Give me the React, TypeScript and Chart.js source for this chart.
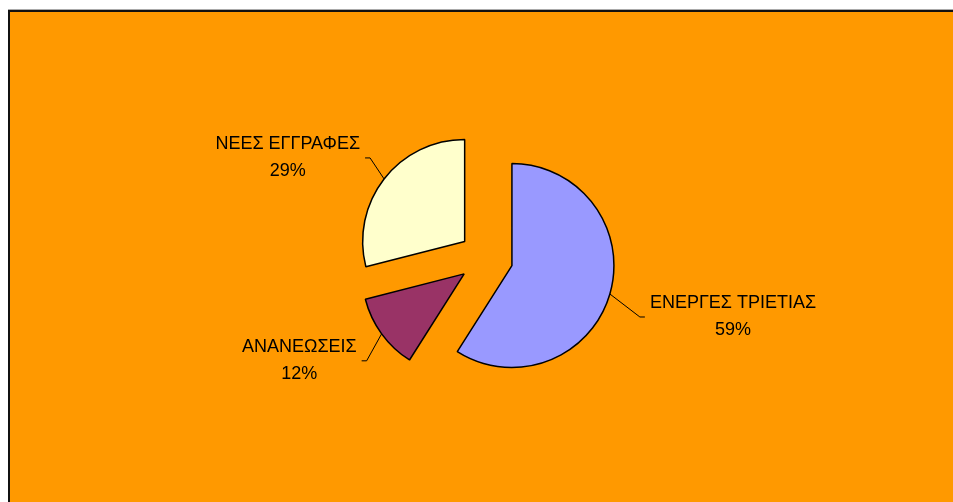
import React, { useEffect, useRef } from "react";
import { Chart, registerables } from "chart.js";

Chart.register(...registerables);

const categories = ["ΕΝΕΡΓΕΣ ΤΡΙΕΤΙΑΣ", "ΑΝΑΝΕΩΣΕΙΣ", "ΝΕΕΣ ΕΓΓΡΑΦΕΣ"];
const values = [59, 12, 29];
const colors = ["#9999FF", "#993366", "#FFFFCC"];
// leader line vectors (edge -> elbow) per slice, in px
const leaderVectors = [
  [30, 23],
  [-15, 27],
  [-14, -21],
];

const EXPLODE = 27;
const FONT = '18px "Liberation Sans", Arial, sans-serif';

const explodePlugin = {
  id: "explode",
  beforeDatasetsDraw(chart: any) {
    const a = chart.chartArea;
    const cx = (a.left + a.right) / 2;
    const cy = (a.top + a.bottom) / 2;
    const meta = chart.getDatasetMeta(0);
    meta.data.forEach((el: any) => {
      const mid = (el.startAngle + el.endAngle) / 2;
      el.x = cx + Math.cos(mid) * EXPLODE;
      el.y = cy + Math.sin(mid) * EXPLODE;
    });
  },
};

const labelPlugin = {
  id: "pieLabels",
  afterDatasetsDraw(chart: any) {
    const ctx = chart.ctx;
    const meta = chart.getDatasetMeta(0);
    const data = chart.data.datasets[0].data as number[];
    const total = data.reduce((s, v) => s + v, 0);
    ctx.save();
    ctx.font = FONT;
    ctx.fillStyle = "#000";
    ctx.strokeStyle = "#000";
    ctx.lineWidth = 1;
    meta.data.forEach((el: any, i: number) => {
      const mid = (el.startAngle + el.endAngle) / 2;
      const r = el.outerRadius;
      const ex = el.x + Math.cos(mid) * r;
      const ey = el.y + Math.sin(mid) * r;
      const [dx, dy] = leaderVectors[i];
      const bx = ex + dx;
      const by = ey + dy;
      const side = dx >= 0 ? 1 : -1;
      const hx = bx + side * 5;
      ctx.beginPath();
      ctx.moveTo(ex, ey);
      ctx.lineTo(bx, by);
      ctx.lineTo(hx, by);
      ctx.stroke();
      const l1 = chart.data.labels[i] as string;
      const l2 = Math.round((data[i] / total) * 100) + "%";
      const w = Math.max(ctx.measureText(l1).width, ctx.measureText(l2).width);
      const left = side > 0 ? hx + 5 : hx - 5 - w;
      const centerX = left + w / 2;
      ctx.textAlign = "center";
      ctx.textBaseline = "middle";
      ctx.fillText(l1, centerX, by - 14);
      ctx.fillText(l2, centerX, by + 13);
    });
    ctx.restore();
  },
};

export default function App() {
  const ref = useRef<HTMLCanvasElement>(null);
  useEffect(() => {
    if (!ref.current) return;
    const chart = new Chart(ref.current, {
      type: "pie",
      data: {
        labels: categories,
        datasets: [
          {
            data: values,
            backgroundColor: colors,
            borderColor: "#000",
            borderWidth: 1.5,
            radius: 102,
          } as any,
        ],
      },
      options: {
        responsive: false,
        animation: false,
        layout: { padding: { left: 2, right: 0, top: 0, bottom: 8 } },
        plugins: {
          legend: { display: false },
          tooltip: { enabled: false },
        },
      },
      plugins: [explodePlugin, labelPlugin],
    });
    return () => chart.destroy();
  }, []);
  return (
    <div
      style={{
        position: "fixed",
        left: 8,
        top: 10,
        width: 990,
        height: 520,
        background: "#FF9900",
        borderTop: "2px solid #111",
        borderLeft: "2px solid #111",
        boxShadow: "0 -1px 0 #aaa",
        overflow: "hidden",
      }}
    >
      <canvas ref={ref} width={950} height={500} style={{ display: "block" }} />
    </div>
  );
}
